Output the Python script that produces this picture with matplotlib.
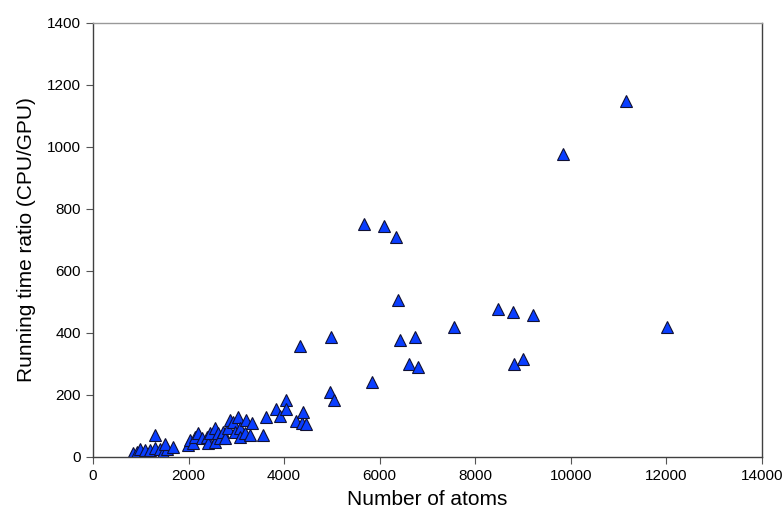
import matplotlib.pyplot as plt
import numpy as np

plt.rcParams['font.family'] = ['Liberation Sans', 'DejaVu Sans']

# number of atoms vs running time ratio
n_atoms = [
    837, 921, 983, 1088, 1193, 1297, 1402, 1465, 1548, 1297, 1507, 1674,
    1988, 2030, 2093, 2134, 2197, 2281, 2385, 2407, 2448, 2553, 2553, 2616,
    2658, 2721, 2763, 2825, 2867, 2930, 2972, 3034, 3076, 3076, 3181, 3202,
    3285, 3327, 3557, 3620, 3829, 3913, 4038, 4038, 4248, 4331, 4373, 4394,
    4457, 4959, 4980, 5043, 5671, 5838, 6083, 6340, 6376, 6424, 6612, 6738,
    6794, 7554, 8475, 8789, 8810, 9000, 9207, 9835, 11153, 12011,
]
ratio = [
    13, 16, 26, 23, 23, 29, 26, 16, 26, 71, 42, 32,
    39, 55, 45, 65, 77, 61, 65, 45, 77, 94, 48, 77,
    61, 81, 61, 94, 119, 113, 81, 129, 94, 65, 77, 119,
    71, 110, 71, 129, 155, 132, 184, 155, 116, 358, 110, 145,
    106, 210, 387, 184, 752, 242, 746, 710, 507, 377, 300, 387,
    291, 420, 477, 468, 300, 316, 458, 977, 1148, 419,
]

x_ticks = np.arange(0, 14001, 2000)
y_ticks = np.arange(0, 1401, 200)

fig = plt.figure(figsize=(7.82, 5.11), dpi=100)
ax = fig.add_axes([0.1189, 0.1057, 0.8555, 0.8493])

ax.plot(n_atoms, ratio, linestyle='none', marker='^', markersize=8.6,
        markerfacecolor='#0A3EFF', markeredgecolor='#111133', markeredgewidth=0.8)

ax.set_xlim(0, 14000)
ax.set_ylim(0, 1400)
ax.set_xticks(x_ticks)
ax.set_yticks(y_ticks)
ax.tick_params(direction='out', length=5, width=0.8, labelsize=11, colors='#555555', labelcolor='black')

for side in ['left', 'bottom', 'right']:
    ax.spines[side].set_color('#404040')
ax.spines['top'].set_color('#999999')
for s in ax.spines.values():
    s.set_linewidth(1.0)

ax.set_xlabel('Number of atoms', fontsize=15, labelpad=5)
ax.set_ylabel('Running time ratio (CPU/GPU)', fontsize=15, labelpad=8)

fig.savefig('out.png', dpi=100)
